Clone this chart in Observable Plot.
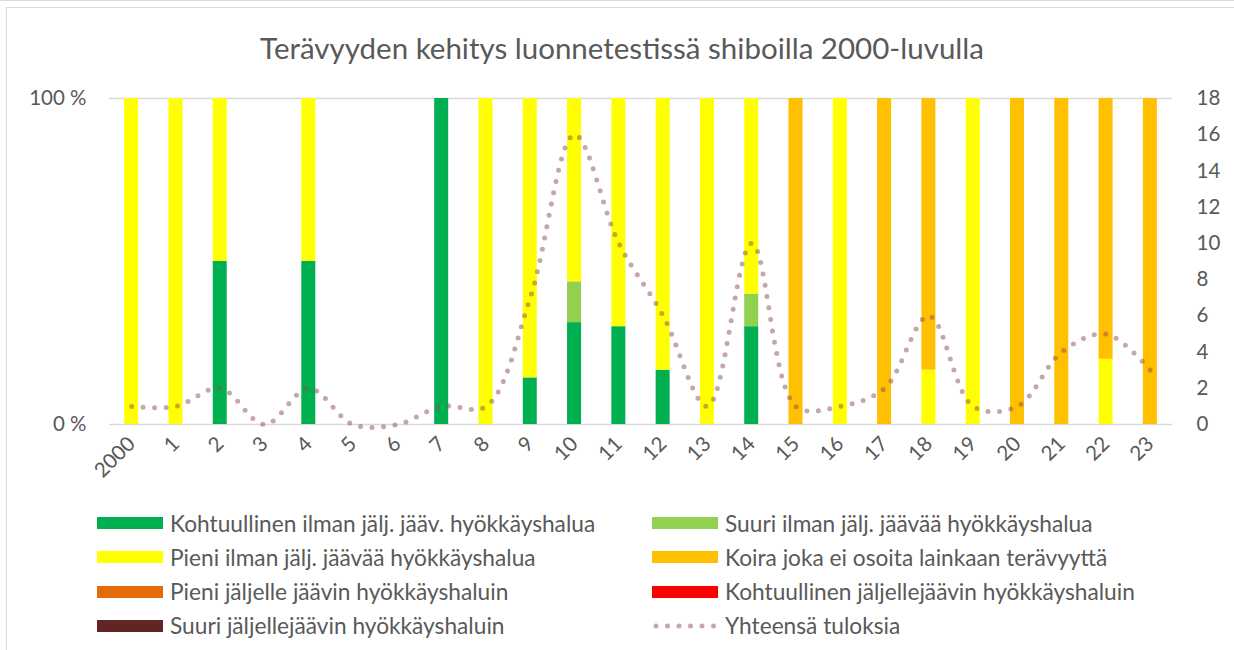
<!DOCTYPE html>
<html>
<head>
<meta charset="utf-8">
<script src="https://cdn.jsdelivr.net/npm/d3@7"></script>
<script src="https://cdn.jsdelivr.net/npm/@observablehq/plot@0.6"></script>
<style>
  html, body { margin: 0; padding: 0; background: #fff; }
  body { width: 1234px; height: 650px; overflow: hidden; position: relative; font-family: Lato, "Open Sans", sans-serif; color: #595959; }
  #frame { position: absolute; left: 6px; top: 7px; width: 1240px; height: 660px; border: 1.5px solid #d9d9d9; box-sizing: border-box; }
  #topline { position: absolute; left: 0; top: 0; width: 1234px; height: 1px; background: #d9d9d9; }
  #title { position: absolute; left: 5px; top: 30px; width: 1234px; text-align: center; font-size: 29.5px; line-height: 36px; color: #595959; }
  #main, #overlay { position: absolute; left: 0; top: 70px; }
  .legend { position: absolute; font-size: 22.7px; color: #595959; }
  .item { position: absolute; white-space: nowrap; display: flex; align-items: center; height: 24px; }
  .sw { width: 66px; height: 12px; margin-right: 7px; }
</style>
</head>
<body>
<div id="topline"></div>
<div id="frame"></div>
<div id="title">Terävyyden kehitys luonnetestissä shiboilla 2000-luvulla</div>
<div id="main"></div>
<div id="overlay"></div>
<div id="legend"></div>
<script>
const years = ["2000","1","2","3","4","5","6","7","8","9","10","11","12","13","14","15","16","17","18","19","20","21","22","23"];
const seriesNames = [
  "Kohtuullinen ilman jälj. jääv. hyökkäyshalua",
  "Suuri ilman jälj. jäävää hyökkäyshalua",
  "Pieni ilman jälj. jäävää hyökkäyshalua",
  "Koira joka ei osoita lainkaan terävyyttä",
  "Pieni jäljelle jäävin hyökkäyshaluin",
  "Kohtuullinen jäljellejäävin hyökkäyshaluin",
  "Suuri jäljellejäävin hyökkäyshaluin"
];
const seriesColors = ["#00B050", "#92D050", "#FFFF00", "#FFC000", "#E46C0A", "#FF0000", "#632523"];
const kohtuullinenIlman = [0,0,1,0,1,0,0,1,0,1,5,3,1,0,3,0,0,0,0,0,0,0,0,0];
const suuriIlman        = [0,0,0,0,0,0,0,0,0,0,2,0,0,0,1,0,0,0,0,0,0,0,0,0];
const pieniIlman        = [1,1,1,0,1,0,0,0,1,6,9,7,5,1,6,0,1,0,1,1,0,0,1,0];
const koiraEiTeravyytta = [0,0,0,0,0,0,0,0,0,0,0,0,0,0,0,1,0,2,5,0,1,4,4,3];
const pieniJaljelle     = [0,0,0,0,0,0,0,0,0,0,0,0,0,0,0,0,0,0,0,0,0,0,0,0];
const kohtuullinenJalj  = [0,0,0,0,0,0,0,0,0,0,0,0,0,0,0,0,0,0,0,0,0,0,0,0];
const suuriJalj         = [0,0,0,0,0,0,0,0,0,0,0,0,0,0,0,0,0,0,0,0,0,0,0,0];
const yhteensa          = [1,1,2,0,2,0,0,1,1,7,16,10,6,1,10,1,1,2,6,1,1,4,5,3];
const lineName = "Yhteensä tuloksia";
const rightTicks = [0,2,4,6,8,10,12,14,16,18];

const seriesValues = [kohtuullinenIlman, suuriIlman, pieniIlman, koiraEiTeravyytta, pieniJaljelle, kohtuullinenJalj, suuriJalj];
const rows = [];
years.forEach((y, i) => {
  seriesValues.forEach((vals, s) => {
    if (vals[i] > 0) rows.push({year: y, cat: seriesNames[s], count: vals[i]});
  });
});
const totals = years.map((y, i) => ({year: y, total: yhteensa[i]}));

const W = 1234, H = 420;
const M = {top: 28, right: 62, bottom: 66, left: 109};
const font = "Lato, 'Open Sans', sans-serif";

const main = Plot.plot({
  width: W, height: H,
  marginTop: M.top, marginRight: M.right, marginBottom: M.bottom, marginLeft: M.left,
  style: {fontFamily: font, fontSize: "20.5px", color: "#595959", background: "transparent", overflow: "visible"},
  x: {domain: years, round: false, paddingInner: 0.684, paddingOuter: 0.342, label: null, tickSize: 0, tickRotate: -45, tickPadding: 16},
  y: {domain: [0, 1], ticks: [0, 1], tickFormat: d => `${Math.round(d * 100)} %`, label: null, tickSize: 0, tickPadding: 23},
  color: {domain: seriesNames, range: seriesColors},
  marks: [
    Plot.ruleY([0, 1], {stroke: "#d9d9d9", strokeWidth: 1.5}),
    Plot.barY(rows, Plot.stackY({offset: "normalize", x: "year", y: "count", fill: "cat", order: seriesNames}))
  ]
});
document.getElementById("main").appendChild(main);

const overlay = Plot.plot({
  width: W, height: H,
  marginTop: M.top, marginRight: M.right, marginBottom: M.bottom, marginLeft: M.left,
  style: {fontFamily: font, fontSize: "20.5px", color: "#595959", background: "transparent", overflow: "visible"},
  x: {type: "point", domain: years, round: false, padding: 0.5, axis: null},
  y: {domain: [0, 18], ticks: rightTicks, axis: "right", label: null, tickSize: 0, tickPadding: 24},
  marks: [
    Plot.line(totals, {x: "year", y: "total", curve: "catmull-rom", stroke: "#8e4f4f", strokeOpacity: 0.5,
      strokeWidth: 5, strokeDasharray: "0 11.5", strokeLinecap: "round"})
  ]
});
document.getElementById("overlay").appendChild(overlay);

// legend
const legend = document.getElementById("legend");
const items = seriesNames.map((n, i) => ({name: n, color: seriesColors[i], type: "bar"}));
items.push({name: lineName, type: "line"});
items.forEach((it, i) => {
  const col = i % 2, row = Math.floor(i / 2);
  const d = document.createElement("div");
  d.className = "item legend";
  d.style.left = (col === 0 ? 97 : 652) + "px";
  d.style.top = (511 + row * 34.3) + "px";
  if (it.type === "bar") {
    d.innerHTML = `<div class="sw" style="background:${it.color}"></div><span>${it.name}</span>`;
  } else {
    d.innerHTML = `<svg width="66" height="12" style="margin-right:7px"><line x1="4" y1="6" x2="64" y2="6" stroke="#8e4f4f" stroke-opacity="0.5" stroke-width="5" stroke-linecap="round" stroke-dasharray="0 11.5"/></svg><span>${it.name}</span>`;
  }
  legend.appendChild(d);
});
</script>
</body>
</html>
